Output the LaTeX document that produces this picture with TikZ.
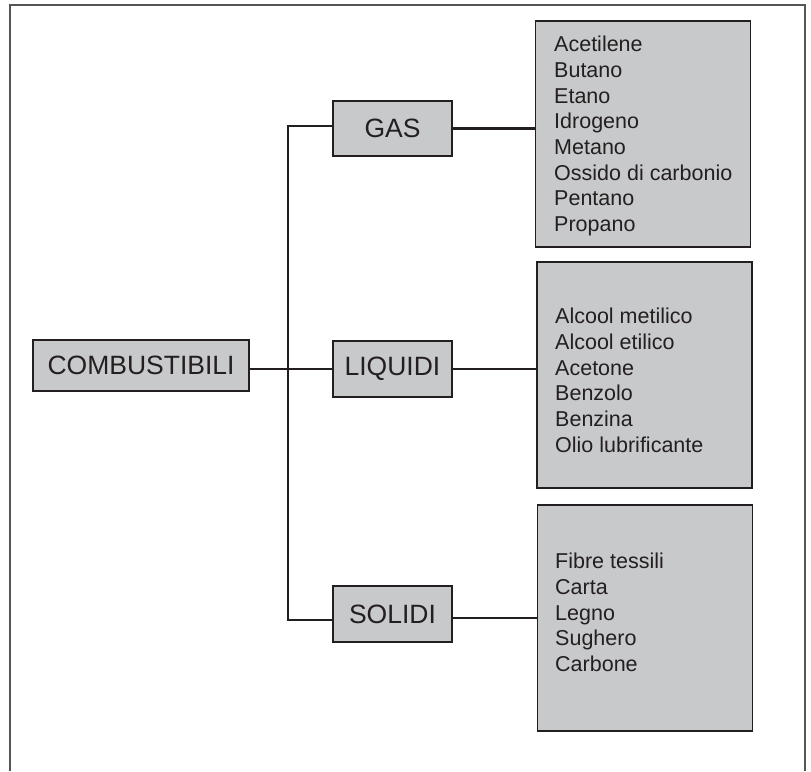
\documentclass[tikz,border=0pt]{standalone}
\usepackage{fontspec}
\setmainfont{Liberation Sans}
\definecolor{boxfill}{RGB}{200,201,203}
\definecolor{ink}{RGB}{35,31,32}
\definecolor{framec}{RGB}{85,85,85}
\begin{document}
\begin{tikzpicture}[x=1pt,y=-1pt,
  catbox/.style={draw=ink, line width=1.3pt, fill=boxfill, text=ink,
    font=\fontsize{26.5}{32}\selectfont, inner sep=0pt},
  listbox/.style={draw=ink, line width=1.3pt, fill=boxfill, inner sep=0pt,
    minimum width=215pt, minimum height=226pt},
  listtext/.style={text=ink, font=\fontsize{21.5}{25.7}\selectfont,
    align=left, inner sep=0pt, anchor=north west},
  conn/.style={draw=ink, line width=2.3pt}]
\useasboundingbox (0,0) rectangle (811,771);
\draw[framec, line width=1.5pt] (10,771) -- (10,5) -- (805,5) -- (805,771);

% category boxes
\node[catbox, minimum width=216pt, minimum height=51pt] (comb) at (141,365.5) {COMBUSTIBILI};
\node[catbox, minimum width=119pt, minimum height=55pt] (gas) at (392.5,128.5) {GAS};
\node[catbox, minimum width=119pt, minimum height=56pt] (liq) at (392.5,369) {LIQUIDI};
\node[catbox, minimum width=119pt, minimum height=56pt] (sol) at (392.5,614) {SOLIDI};

% list boxes
\node[listbox] (gaslist) at (643,134) {};
\node[listbox] (liqlist) at (644.5,375) {};
\node[listbox] (sollist) at (645,618) {};

\node[listtext] (gastext) at (554,36) {Acetilene\\Butano\\Etano\\Idrogeno\\Metano\\Ossido di carbonio\\Pentano\\Propano};
\node[listtext] (liqtext) at (555,308) {Alcool metilico\\Alcool etilico\\Acetone\\Benzolo\\Benzina\\Olio lubrificante};
\node[listtext] (soltext) at (555,553) {Fibre tessili\\Carta\\Legno\\Sughero\\Carbone};

% connectors
\coordinate (spinetop) at (288,126);
\coordinate (spinebot) at (288,620);
\draw[conn] (spinetop -| gas.west) -- (spinetop) -- (spinebot) -- (spinebot -| sol.west);
\draw[conn] (comb.east |- liq.west) -- (liq.west);
\draw[conn] (gas.east) -- (gas.east -| gaslist.west);
\draw[conn] (liq.east) -- (liq.east -| liqlist.west);
\draw[conn] ([yshift=-4pt]sol.east) -- ([yshift=-4pt]sol.east -| sollist.west);
\end{tikzpicture}
\end{document}
